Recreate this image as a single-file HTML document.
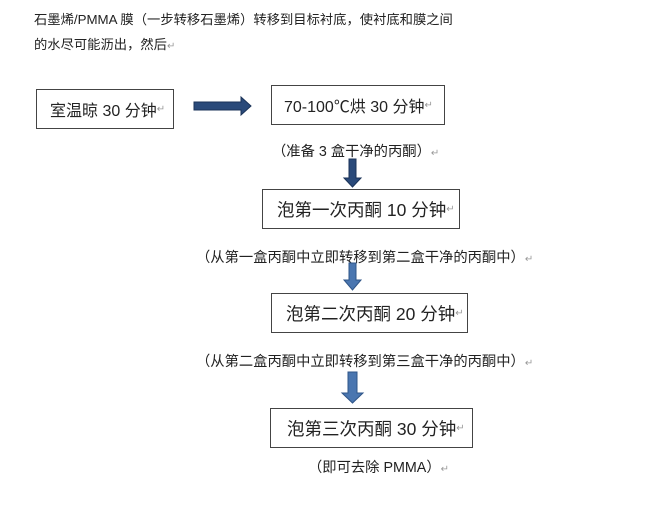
<!DOCTYPE html>
<html><head><meta charset="utf-8"><style>
body{margin:0;width:650px;height:510px;background:#fff;position:relative;overflow:hidden;font-family:"Liberation Sans","Noto Sans CJK SC",sans-serif;color:#222}
.t{position:absolute;font-size:14.3px;white-space:nowrap;line-height:16px}
.b{position:absolute;border:1.5px solid #444;box-sizing:border-box;font-size:17.5px;display:flex;align-items:center;background:#fff;white-space:nowrap;overflow:visible}
.m{color:#999;font-size:10px}
</style></head><body>
<div class="t" style="left:34px;top:12px;font-size:13.3px">石墨烯/PMMA 膜（一步转移石墨烯）转移到目标衬底，使衬底和膜之间</div>
<div class="t" style="left:34px;top:37px;font-size:13.3px">的水尽可能沥出，然后<span class="m">↵</span></div>

<div class="b" style="left:36px;top:89px;width:138px;height:40px;padding-left:13px;font-size:16px">室温晾 30 分钟<span class="m">↵</span></div>
<div class="b" style="left:271px;top:85px;width:174px;height:40px;padding-left:12px;font-size:16px">70-100℃烘 30 分钟<span class="m">↵</span></div>
<div class="t" style="left:272px;top:144px">（准备 3 盒干净的丙酮）<span class="m">↵</span></div>
<div class="b" style="left:262px;top:189px;width:198px;height:40px;padding-left:14px">泡第一次丙酮 10 分钟<span class="m">↵</span></div>
<div class="t" style="left:196px;top:250px">（从第一盒丙酮中立即转移到第二盒干净的丙酮中）<span class="m">↵</span></div>
<div class="b" style="left:271px;top:293px;width:197px;height:40px;padding-left:14px">泡第二次丙酮 20 分钟<span class="m">↵</span></div>
<div class="t" style="left:196px;top:354px">（从第二盒丙酮中立即转移到第三盒干净的丙酮中）<span class="m">↵</span></div>
<div class="b" style="left:270px;top:408px;width:203px;height:40px;padding-left:16px">泡第三次丙酮 30 分钟<span class="m">↵</span></div>
<div class="t" style="left:308px;top:460px">（即可去除 PMMA）<span class="m">↵</span></div>

<svg style="position:absolute;left:0;top:0" width="650" height="510">
<polygon points="194,102 241,102 241,97 251,106 241,115 241,110 194,110" fill="#2a4a7a" stroke="#1b3358"/>
<polygon points="349,159 356,159 356,178 361,178 352.5,187 344,178 349,178" fill="#2a4a7a" stroke="#1b3358"/>
<polygon points="349,263 356,263 356,280 361,280 352.5,290 344,280 349,280" fill="#4a76b0" stroke="#2f5588"/>
<polygon points="348,372 357,372 357,393 363,393 352.5,403 342,393 348,393" fill="#4a76b0" stroke="#2f5588"/>
</svg>
</body></html>
